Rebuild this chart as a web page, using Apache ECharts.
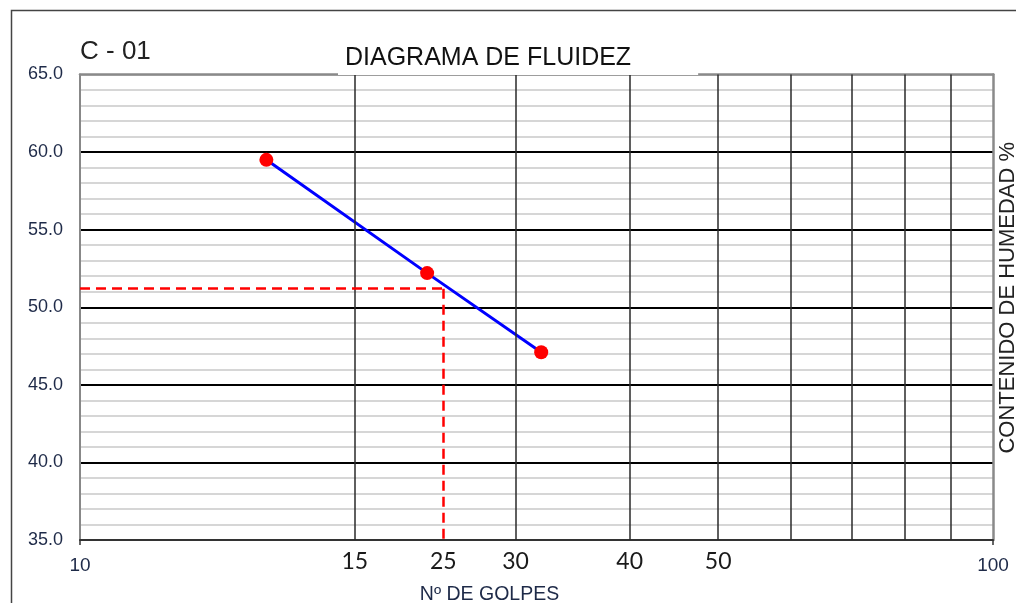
<!DOCTYPE html>
<html>
<head>
<meta charset="utf-8">
<title>Diagrama de fluidez</title>
<script src="https://cdn.jsdelivr.net/npm/echarts@6/dist/echarts.min.js"></script>
<style>
  html, body { margin: 0; padding: 0; background: #fff; }
  #chart { width: 1016px; height: 603px; }
</style>
</head>
<body>
<div id="chart"></div>
<script>
// ensayo C - 01
const golpes = [16, 24, 32];
const humedad = [59.5, 52.2, 47.1];

// limite liquido leido a 25 golpes
const limiteX = 25;
const limiteY = 51.2;

const yMin = 35, yMax = 65, yStep = 5;
const xMin = 10, xMax = 100;
const lineasX = [20, 30, 40, 50, 60, 70, 80, 90];
const etiquetasX = [20, 25, 30, 40, 50];
const textosX = ['15', '25', '30', '40', '50'];

const labelColor = '#1e2a48';
const font = '"Liberation Sans", Arial, sans-serif';

let chart = echarts.init(document.getElementById('chart'));

let option = {
  animation: false,
  backgroundColor: '#fff',
  title: [
    {
      text: 'C - 01',
      left: 80,
      top: 39,
      padding: 0,
      textStyle: { fontFamily: font, fontSize: 26, fontWeight: 'normal', color: '#222' }
    },
    {
      text: 'DIAGRAMA DE FLUIDEZ',
      left: 338,
      top: 42,
      padding: [4, 67, 4, 7],
      backgroundColor: '#fff',
      textStyle: { fontFamily: font, fontSize: 25, fontWeight: 'normal', color: '#111' }
    }
  ],
  grid: { left: 80, right: 23, top: 74.5, bottom: 63, outerBoundsMode: 'none' },
  xAxis: [
    {
      type: 'log',
      logBase: 10,
      min: xMin,
      max: xMax,
      name: 'Nº DE GOLPES',
      nameLocation: 'middle',
      nameGap: 45,
      nameTextStyle: { fontFamily: font, fontSize: 19.5, color: labelColor, padding: [0, 94, 0, 0] },
      axisLine: { lineStyle: { color: '#333', width: 2 } },
      axisTick: { length: 5, lineStyle: { color: '#333', width: 1.5 } },
      axisLabel: { fontFamily: font, fontSize: 19, color: labelColor, margin: 16 },
      splitLine: { show: false }
    },
    {
      type: 'log',
      logBase: 10,
      min: xMin,
      max: xMax,
      position: 'top',
      axisLine: { lineStyle: { color: '#8a8a8a', width: 2.5 } },
      axisTick: { show: false },
      axisLabel: { show: false },
      splitLine: { show: false }
    }
  ],
  yAxis: [
    {
      type: 'value',
      min: yMin,
      max: yMax,
      interval: yStep,
      axisLine: { show: true, lineStyle: { color: '#888', width: 2 } },
      axisTick: { show: false },
      axisLabel: {
        fontFamily: font, fontSize: 18, color: labelColor, margin: 17,
        formatter: v => v.toFixed(1)
      },
      splitLine: {
        lineStyle: { color: ['#000', '#000', '#000', '#000', '#000', '#000', '#d4d4d4'], width: 2 }
      },
      minorTick: { show: false, splitNumber: 5 },
      minorSplitLine: { show: true, lineStyle: { color: '#d6d6d6', width: 2 } }
    },
    {
      type: 'value',
      min: yMin,
      max: yMax,
      position: 'right',
      name: 'CONTENIDO DE HUMEDAD %',
      nameLocation: 'middle',
      nameRotate: 90,
      nameGap: 4,
      nameTextStyle: { fontFamily: font, fontSize: 22, color: '#222', padding: [0, 0, 0, 19] },
      axisLine: { show: true, lineStyle: { color: '#8a8a8a', width: 2.5 } },
      axisTick: { show: false },
      axisLabel: { show: false },
      splitLine: { show: false }
    }
  ],
  series: [
    {
      // lineas verticales de la escala log
      name: 'rejilla',
      type: 'line',
      z: 1,
      data: [],
      markLine: {
        silent: true,
        symbol: 'none',
        label: { show: false },
        lineStyle: { color: '#2a2a2a', width: 1.5, type: 'solid' },
        data: lineasX.map(v => ({ xAxis: v }))
      }
    },
    {
      name: 'limite',
      type: 'line',
      z: 2,
      data: [],
      markLine: {
        silent: true,
        symbol: 'none',
        label: { show: false },
        lineStyle: { color: '#ff0000', width: 2.5, type: [10, 6] },
        data: [
          [{ coord: [xMin, limiteY] }, { coord: [limiteX, limiteY] }],
          [{ coord: [limiteX, limiteY] }, { coord: [limiteX, yMin] }]
        ]
      }
    },
    {
      name: 'ensayo',
      type: 'line',
      z: 3,
      data: golpes.map((g, i) => [g, humedad[i]]),
      symbol: 'circle',
      symbolSize: 14,
      itemStyle: { color: '#ff0000' },
      lineStyle: { color: '#0000ff', width: 3 }
    }
  ]
};

chart.setOption(option);

// etiquetas grandes del eje de golpes, ubicadas con la escala del eje
let ejeY = chart.convertToPixel({ yAxisIndex: 0 }, yMin);
chart.setOption({
  graphic: [
    {
      type: 'rect',
      left: 9,
      top: 8,
      shape: { width: 1100, height: 700 },
      style: { fill: null, stroke: '#444', lineWidth: 1.5 },
      silent: true
    }
  ].concat(etiquetasX.map((v, i) => ({
    type: 'text',
    x: chart.convertToPixel({ xAxisIndex: 0 }, v),
    y: ejeY + 21.5,
    silent: true,
    style: {
      text: textosX[i],
      fill: '#1a1a1a',
      font: '23px Lato, "Open Sans", sans-serif',
      textAlign: 'center',
      textVerticalAlign: 'middle'
    }
  })))
});

chart.on('click', params => {
  console.log(params);
});
</script>
</body>
</html>
